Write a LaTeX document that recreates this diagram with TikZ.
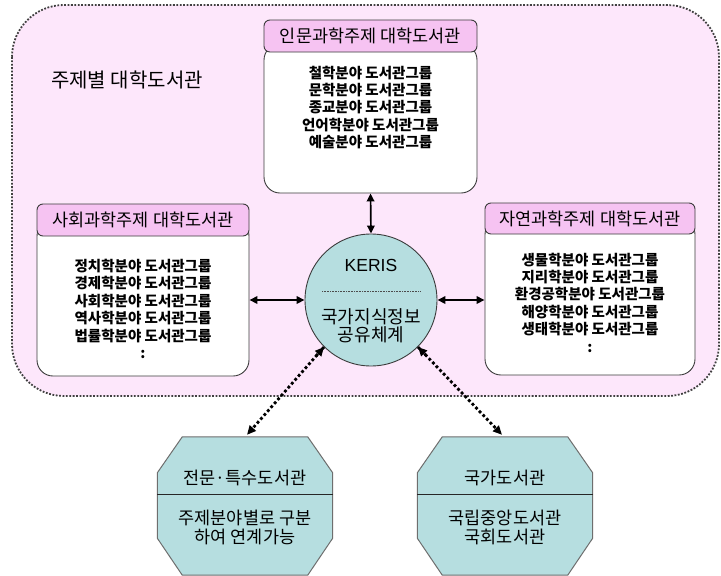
\documentclass[tikz,border=0pt]{standalone}
\usepackage{fontspec}
\setmainfont{Noto Sans CJK KR}
\newfontfamily\krfont{Noto Sans CJK KR}
\newfontfamily\latfont{Liberation Sans}
\usetikzlibrary{arrows.meta,calc}
\definecolor{bgpink}{RGB}{253,231,251}
\definecolor{hdpink}{RGB}{246,195,242}
\definecolor{teal}{RGB}{182,222,224}
\definecolor{edge}{RGB}{60,60,60}
\definecolor{octedge}{RGB}{110,110,110}
\tikzset{
  bodybox/.style={draw=edge,line width=0.9pt,fill=white,rounded corners=16pt,inner sep=0pt},
  headbox/.style={draw=edge,line width=0.9pt,fill=hdpink,rounded corners=6pt,inner sep=0pt,
    font=\krfont\fontsize{17.5}{20}\selectfont},
  listtext/.style={align=center,inner sep=0pt,font=\krfont\bfseries\fontsize{14.5}{17.4}\selectfont},
  octtext/.style={align=center,inner sep=0pt,font=\krfont\fontsize{17.5}{19}\selectfont},
  dbl/.style={line width=1.7pt,{Triangle[length=8pt,width=7.5pt]}-{Triangle[length=8pt,width=7.5pt]}},
  dotarrow/.style={line width=2.8pt,dash pattern=on 2.8pt off 2.4pt,-{Triangle[length=9pt,width=8pt]}},
  octbox/.style={inner sep=0pt,minimum width=175pt,minimum height=138pt}
}
\begin{document}
\begin{tikzpicture}[x=1pt,y=-1pt]
\useasboundingbox (0,0) rectangle (721,576);
\fill[white] (0,0) rectangle (721,576);
% big dotted area
\draw[fill=bgpink,line width=1.8pt,dash pattern=on 1.8pt off 1.6pt,rounded corners=52pt,draw=black!75]
  (12,5) rectangle (719,396);
\node[font=\krfont\fontsize{20}{22}\selectfont,inner sep=0pt] (title) at (127,80) {주제별 대학도서관};

% top box
\node[bodybox,minimum width=213pt,minimum height=149pt] (topB) at (370.5,118.5) {};
\node[headbox,minimum width=213pt,minimum height=32pt] (topH) at (370.5,36) {인문과학주제 대학도서관};
\node[listtext] (topT) at (370.5,107.5) {철학분야 도서관그룹\\문학분야 도서관그룹\\종교분야 도서관그룹\\언어학분야 도서관그룹\\예술분야 도서관그룹};

% left box
\node[bodybox,minimum width=212pt,minimum height=156pt] (leftB) at (143,298) {};
\node[headbox,minimum width=212pt,minimum height=32pt] (leftH) at (143,220) {사회과학주제 대학도서관};
\node[listtext] (leftT) at (143,309) {정치학분야 도서관그룹\\경제학분야 도서관그룹\\사회학분야 도서관그룹\\역사학분야 도서관그룹\\법률학분야 도서관그룹\\:};

% right box
\node[bodybox,minimum width=210pt,minimum height=156.5pt] (rightB) at (590,296.75) {};
\node[headbox,minimum width=210pt,minimum height=31pt] (rightH) at (590,218.5) {자연과학주제 대학도서관};
\node[listtext] (rightT) at (590,302.5) {생물학분야 도서관그룹\\지리학분야 도서관그룹\\환경공학분야 도서관그룹\\해양학분야 도서관그룹\\생태학분야 도서관그룹\\:};

% KERIS circle
\node[circle,draw=edge,line width=0.9pt,fill=teal,minimum size=132pt,inner sep=0pt] (keris) at (371,300) {};
\node[font=\latfont\fontsize{17.5}{20}\selectfont,inner sep=0pt] (kname) at (371,265) {KERIS};
\node[font=\krfont\fontsize{18}{18.5}\selectfont,align=center,inner sep=0pt] (ktext) at (371,326) {국가지식정보\\공유체계};
\coordinate (kdl) at (322,291);
\coordinate (kdr) at (420,291);
\draw[line width=0.6pt,dash pattern=on 0.8pt off 0.8pt,black!70] (kdl) -- (kdr);

% octagons
\node[octbox] (oL) at (245,506) {};
\node[octbox] (oR) at (505,506) {};
\foreach \o in {oL,oR}{
  \draw[fill=teal,draw=octedge,line width=1pt]
    ($(\o.north west)+(25,0)$) -- ($(\o.north east)+(-25,0)$) -- ($(\o.north east)+(0,36)$)
    -- ($(\o.south east)+(0,-37)$) -- ($(\o.south east)+(-25,0)$) -- ($(\o.south west)+(25,0)$)
    -- ($(\o.south west)+(0,-37)$) -- ($(\o.north west)+(0,36)$) -- cycle;
  \draw[line width=0.9pt,draw=black!85] ($(\o.north west)+(0,58)$) -- ($(\o.north east)+(0,58)$);
}
\node[octtext] (oLt) at (245,478) {전문·특수도서관};
\node[octtext] (oLb) at (245,527.5) {주제분야별로 구분\\하여 연계가능};
\node[octtext] (oRt) at (505,478) {국가도서관};
\node[octtext] (oRb) at (505,527.5) {국립중앙도서관\\국회도서관};

% connectors
\draw[dbl] (topB.south) -- (keris.north);
\draw[dbl] (keris.west -| leftB.east) -- (keris.west);
\draw[dbl] (keris.east) -- (keris.east -| rightB.west);
\draw[dotarrow] (keris.225) -- ($(oL.north)+(2,-2)$);
\draw[dotarrow] (keris.-45) -- ($(oR.north)+(-3,-2)$);
\draw[dotarrow] ($(keris.225)!12pt!(oL.north)$) -- (keris.225);
\draw[dotarrow] ($(keris.-45)!12pt!(oR.north)$) -- (keris.-45);
\end{tikzpicture}
\end{document}
